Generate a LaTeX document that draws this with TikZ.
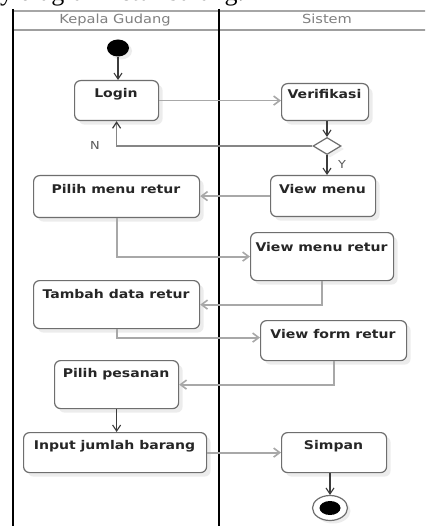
\documentclass[tikz,border=0pt]{standalone}
\usepackage{fontspec}
\setmainfont{Liberation Serif}
\newfontfamily\lblfont[FakeStretch=1.17]{DejaVu Sans}
\usetikzlibrary{arrows.meta,shapes.geometric,shadows}
\definecolor{boxline}{HTML}{6E6E6E}
\definecolor{conngray}{HTML}{A8A8A8}
\definecolor{darkconn}{HTML}{3C3C3C}
\definecolor{hdrtext}{HTML}{808080}
\tikzset{
  actbox/.style={draw=boxline, line width=1.2pt, rounded corners=6pt, fill=white,
    drop shadow={fill=black!14, shadow xshift=4pt, shadow yshift=-4pt},
    inner sep=0pt, anchor=north west},
  acttext/.style={font=\lblfont\bfseries\fontsize{12}{14}\selectfont, text=black!85, inner sep=0pt, anchor=base},
  hdrtext/.style={font=\lblfont\fontsize{12.5}{14}\selectfont, text=hdrtext, inner sep=0pt, anchor=base},
  lanewall/.style={line width=2.2pt, black},
  grayflow/.style={draw=conngray, line width=1.8pt, -{Straight Barb[length=6pt,width=9pt,line width=1.6pt]}},
  darkflow/.style={draw=darkconn, line width=1.1pt, -{Straight Barb[length=6pt,width=8pt]}},
  nflow/.style={draw=conngray!80!black, line width=1.5pt, -{Straight Barb[length=6pt,width=8pt,line width=1.2pt,color=darkconn]}},
  guard/.style={font=\lblfont\fontsize{11}{13}\selectfont, text=black!65, inner sep=0pt}
}
\begin{document}
\begin{tikzpicture}[x=1pt,y=-1pt]
\useasboundingbox (0,0) rectangle (425,526);
\clip (0,0) rectangle (425,526);
\fill[white] (0,0) rectangle (425,526);
% caption fragment
\node[font=\fontsize{26}{28}\selectfont, anchor=base west, inner sep=0pt] (caption) at (0,1) {y diagram retur barang.};
% swimlanes
\draw[line width=2.6pt, gray!70] (13,11) -- (430,11);
\draw[line width=2.4pt, gray!75] (13,30) -- (430,30);
\draw[lanewall] (13,9) -- (13,530);
\draw[lanewall] (219,9) -- (219,530);
\node[hdrtext] (lane1) at (115,24) {Kepala Gudang};
\node[hdrtext] (lane2) at (327,24) {Sistem};
% start
\node[ellipse, fill=black, minimum width=22pt, minimum height=17pt, inner sep=0pt,
  drop shadow={fill=black!14, shadow xshift=3pt, shadow yshift=-3pt}] (start) at (118,48) {};
% activity boxes
\node[actbox, minimum width=84pt, minimum height=40pt] (login) at (74,80) {};
\node[acttext] (logint) at (116,97.5) {Login};
\node[actbox, minimum width=87pt, minimum height=37pt] (verif) at (281,83) {};
\node[acttext] (veriftt) at (324.5,98.5) {Verifikasi};
\node[diamond, draw=boxline, line width=1.2pt, fill=white, minimum width=28pt, minimum height=17pt, inner sep=0pt,
  drop shadow={fill=black!12, shadow xshift=3pt, shadow yshift=-3pt}] (dia) at (327,146) {};
\node[actbox, minimum width=105pt, minimum height=41pt] (viewmenu) at (270,175) {};
\node[acttext] (viewmenut) at (322.5,193.5) {View menu};
\node[actbox, minimum width=166pt, minimum height=42pt] (pilihmenu) at (33,175) {};
\node[acttext] (pilihmenut) at (116,194) {Pilih menu retur};
\node[actbox, minimum width=143pt, minimum height=48pt] (vmretur) at (250,232) {};
\node[acttext] (vmrett) at (321.5,251) {View menu retur};
\node[actbox, minimum width=166pt, minimum height=48pt] (tambah) at (33,280) {};
\node[acttext] (tambaht) at (116,298) {Tambah data retur};
\node[actbox, minimum width=146pt, minimum height=40pt] (viewform) at (260,320) {};
\node[acttext] (viewformt) at (333,338) {View form retur};
\node[actbox, minimum width=124pt, minimum height=48pt] (pesanan) at (54,360) {};
\node[acttext] (pesanant) at (116,377) {Pilih pesanan};
\node[actbox, minimum width=183pt, minimum height=40pt] (input) at (23,432) {};
\node[acttext] (inputt) at (114.5,449) {Input jumlah barang};
\node[actbox, minimum width=105pt, minimum height=40pt] (simpan) at (281,432) {};
\node[acttext] (simpant) at (333.5,449) {Simpan};
% end
\node[ellipse, draw=boxline, line width=1.2pt, fill=white, minimum width=35pt, minimum height=25pt, inner sep=0pt,
  drop shadow={fill=black!14, shadow xshift=3pt, shadow yshift=-3pt}] (endo) at (330,508) {};
\node[ellipse, fill=black, minimum width=21pt, minimum height=14pt, inner sep=0pt] (endi) at (330,508) {};
% connectors
\draw[darkflow] (start.south) -- (start.south |- login.north);
\draw[grayflow] (login.east) -- (login.east -| verif.west);
\draw[darkflow] (dia.north |- verif.south) -- (dia.north);
\draw[nflow] (dia.west) -| (login.south);
\node[guard] (nlabel) at (95,145) {N};
\draw[darkflow] (dia.south) -- (dia.south |- viewmenu.north);
\node[guard] (ylabel) at (342,164) {Y};
\draw[grayflow] (viewmenu.west) -- (viewmenu.west -| pilihmenu.east);
\draw[grayflow] (pilihmenu.south) |- (vmretur.west);
\draw[grayflow] (vmretur.south) |- (tambah.east);
\draw[grayflow] (tambah.south) |- ([yshift=3pt]viewform.west);
\draw[grayflow] (viewform.south) |- (pesanan.east);
\draw[darkflow] (pesanan.south) -- (pesanan.south |- input.north);
\draw[grayflow] (input.east) -- (simpan.west);
\draw[darkflow] (endo.north |- simpan.south) -- (endo.north);
\end{tikzpicture}
\end{document}
